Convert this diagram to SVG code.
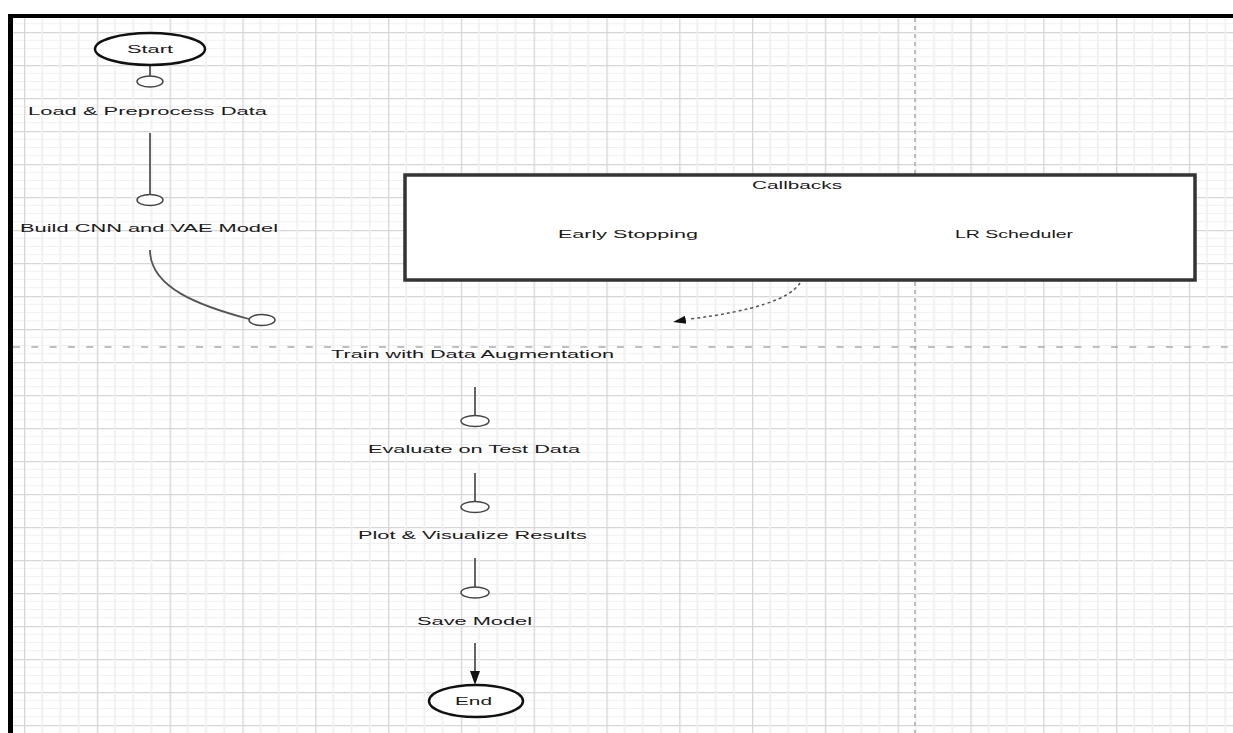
<svg xmlns="http://www.w3.org/2000/svg" width="1233" height="733" viewBox="0 0 1233 733">
<defs>
<style>
.t{font-family:"Liberation Sans",Arial,sans-serif;font-size:11.5px;fill:#1a1a1a;text-anchor:middle}
.term{fill:#fff;stroke:#111;stroke-width:2.5}
.port{fill:#fff;stroke:#444;stroke-width:1.5}
.ln{fill:none;stroke:#555;stroke-width:1.8}
</style>
<pattern id="gv" x="24" y="0" width="72.8" height="800" patternUnits="userSpaceOnUse">
<line x1="18.2" y1="0" x2="18.2" y2="800" stroke="#efefef" stroke-width="1.8"/>
<line x1="36.4" y1="0" x2="36.4" y2="800" stroke="#efefef" stroke-width="1.8"/>
<line x1="54.6" y1="0" x2="54.6" y2="800" stroke="#efefef" stroke-width="1.8"/>
<line x1="0.6" y1="0" x2="0.6" y2="800" stroke="#d6d6d6" stroke-width="1.5"/>
</pattern>
<pattern id="gh" x="0" y="32" width="1300" height="33" patternUnits="userSpaceOnUse">
<line x1="0" y1="8.25" x2="1300" y2="8.25" stroke="#f1f1f1" stroke-width="1.2"/>
<line x1="0" y1="16.5" x2="1300" y2="16.5" stroke="#f1f1f1" stroke-width="1.2"/>
<line x1="0" y1="24.75" x2="1300" y2="24.75" stroke="#f1f1f1" stroke-width="1.2"/>
<line x1="0" y1="0.6" x2="1300" y2="0.6" stroke="#d6d6d6" stroke-width="1.3"/>
</pattern>
<marker id="ah" viewBox="0 0 10 10" refX="10" refY="5" markerWidth="14" markerHeight="10" markerUnits="userSpaceOnUse" orient="auto" preserveAspectRatio="none">
<path d="M0,0 L10,5 L0,10 z" fill="#111"/>
</marker>
<marker id="ahd" viewBox="0 0 10 10" refX="10" refY="5" markerWidth="13" markerHeight="10" markerUnits="userSpaceOnUse" orient="auto" preserveAspectRatio="none">
<path d="M0,1 L10,5 L0,9 z" fill="#111"/>
</marker>
</defs>
<rect width="1233" height="733" fill="#fff"/>
<g id="grid">
<rect x="13" y="18" width="1220" height="715" fill="url(#gh)"/>
<rect x="13" y="18" width="1220" height="715" fill="url(#gv)"/>
<line x1="13" y1="347" x2="1233" y2="347" stroke="#aaa" stroke-width="1.3" stroke-dasharray="7,11.3"/>
<line x1="915" y1="18" x2="915" y2="733" stroke="#a5a5a5" stroke-width="1.4" stroke-dasharray="4,4"/>
</g>
<g id="frame">
<line x1="8" y1="16" x2="1233" y2="16" stroke="#000" stroke-width="4"/>
<line x1="10.5" y1="14" x2="10.5" y2="733" stroke="#000" stroke-width="5"/>
</g>
<g id="connectors">
<line class="ln" x1="150" y1="65" x2="150" y2="76"/>
<ellipse class="port" cx="150" cy="81.5" rx="13" ry="5.5"/>
<line class="ln" x1="150" y1="133" x2="150" y2="195"/>
<ellipse class="port" cx="150" cy="200" rx="13" ry="5.5"/>
<path class="ln" d="M150,250 C150,288 200,306 249,319"/>
<ellipse class="port" cx="262" cy="320" rx="13" ry="5.5"/>
<path d="M800,283 Q785,307 690,319" fill="none" stroke="#555" stroke-width="1.5" stroke-dasharray="3,3"/>
<path d="M688,319.3 L673,322" fill="none" stroke="none" marker-end="url(#ahd)"/>
<line class="ln" x1="475" y1="643" x2="475" y2="676"/>
<line class="ln" x1="475" y1="387" x2="475" y2="415.5"/>
<ellipse class="port" cx="475" cy="421" rx="14" ry="5.5"/>
<line class="ln" x1="475" y1="473" x2="475" y2="501.5"/>
<ellipse class="port" cx="475" cy="507" rx="14" ry="5.5"/>
<line class="ln" x1="475" y1="558" x2="475" y2="587"/>
<ellipse class="port" cx="475" cy="592.5" rx="14" ry="5.5"/>
<path d="M475,670 L475,685" fill="none" stroke="none" marker-end="url(#ah)"/>
</g>
<g id="start">
<ellipse class="term" cx="150" cy="49" rx="55" ry="16"/>
<text class="t" transform="matrix(1.8,0,0,1,150,53)" textLength="25.6" lengthAdjust="spacingAndGlyphs">Start</text>
</g>
<g id="load">
<text class="t" transform="matrix(1.8,0,0,1,147.5,115)" textLength="132.8" lengthAdjust="spacingAndGlyphs">Load &amp; Preprocess Data</text>
</g>
<g id="build">
<text class="t" transform="matrix(1.8,0,0,1,149,232)" textLength="143.3" lengthAdjust="spacingAndGlyphs">Build CNN and VAE Model</text>
</g>
<g id="callbacks">
<rect x="405" y="175" width="790" height="105" fill="#fff" stroke="#333" stroke-width="3.5"/>
<text class="t" transform="matrix(1.8,0,0,1,797,189)" textLength="50" lengthAdjust="spacingAndGlyphs">Callbacks</text>
<g id="early-stopping">
<text class="t" transform="matrix(1.8,0,0,1,628,238)" textLength="77.8" lengthAdjust="spacingAndGlyphs">Early Stopping</text>
</g>
<g id="lr-scheduler">
<text class="t" transform="matrix(1.8,0,0,1,1014,238)" textLength="65.6" lengthAdjust="spacingAndGlyphs">LR Scheduler</text>
</g>
</g>
<g id="train">
<text class="t" transform="matrix(1.8,0,0,1,472.5,358)" textLength="157.2" lengthAdjust="spacingAndGlyphs">Train with Data Augmentation</text>
</g>
<g id="evaluate">
<text class="t" transform="matrix(1.8,0,0,1,474,453)" textLength="117.8" lengthAdjust="spacingAndGlyphs">Evaluate on Test Data</text>
</g>
<g id="plot">
<text class="t" transform="matrix(1.8,0,0,1,472.5,539)" textLength="127.2" lengthAdjust="spacingAndGlyphs">Plot &amp; Visualize Results</text>
</g>
<g id="save">
<text class="t" transform="matrix(1.8,0,0,1,474.5,625)" textLength="63.9" lengthAdjust="spacingAndGlyphs">Save Model</text>
</g>
<g id="end">
<ellipse class="term" cx="476" cy="701" rx="47" ry="16"/>
<text class="t" transform="matrix(1.8,0,0,1,473.5,705)" textLength="20.6" lengthAdjust="spacingAndGlyphs">End</text>
</g>
</svg>
